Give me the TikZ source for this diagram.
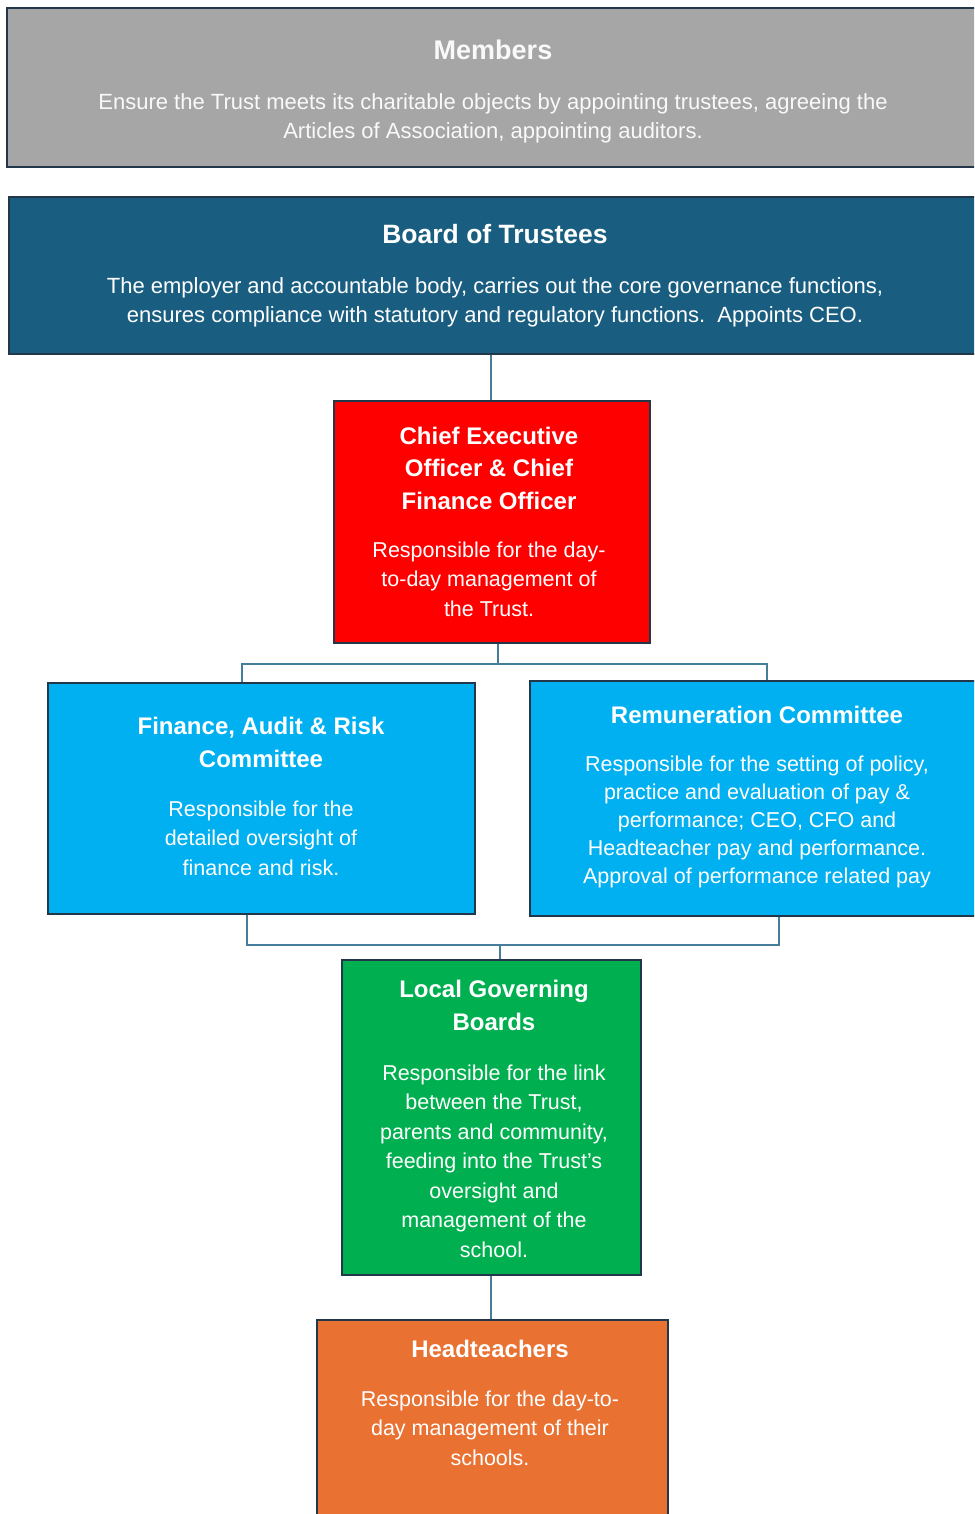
\documentclass[tikz,border=0pt]{standalone}
\usepackage{fontspec}
\setmainfont{Liberation Sans}
\definecolor{memgray}{HTML}{A6A6A6}
\definecolor{boardblue}{HTML}{195E80}
\definecolor{ceored}{HTML}{FF0000}
\definecolor{comblue}{HTML}{00B0F0}
\definecolor{lgbgreen}{HTML}{00B050}
\definecolor{headorange}{HTML}{E97132}
\definecolor{edge}{HTML}{22384A}
\definecolor{conncol}{HTML}{457D9A}
\begin{document}
\begin{tikzpicture}[x=1pt,y=-1pt,
  box/.style={draw=edge, line width=1.6pt, rectangle, inner sep=0pt},
  conn/.style={draw=conncol, line width=1.6pt},
  title/.style={text=white, inner sep=0pt, align=center, font=\fontsize{24}{32.5}\selectfont\bfseries},
  body/.style={text=white, inner sep=0pt, align=center, font=\fontsize{21.5}{29.5}\selectfont},
]
\clip (0,0) rectangle (974,1514);
\fill[white] (0,0) rectangle (974,1514);
% boxes
\node[box, fill=memgray, minimum width=990pt, minimum height=159pt] (members) at (502,87.5) {};
\node[box, fill=boardblue, minimum width=990pt, minimum height=157pt] (board) at (504,275.5) {};
\node[box, fill=ceored, minimum width=316pt, minimum height=242pt] (ceo) at (492,522) {};
\node[box, fill=comblue, minimum width=427pt, minimum height=231pt] (far) at (261.5,798.5) {};
\node[box, fill=comblue, minimum width=460pt, minimum height=235pt] (rem) at (760,798.5) {};
\node[box, fill=lgbgreen, minimum width=299pt, minimum height=315pt] (lgb) at (491.5,1117.5) {};
\node[box, fill=headorange, minimum width=351pt, minimum height=220pt] (head) at (492.5,1430) {};
% texts
\node[title, font=\fontsize{27}{32}\selectfont\bfseries, text=white!95!gray] (memT) at (493,50) {Members};
\node[body, font=\fontsize{22}{29}\selectfont, text=white!95!gray] (memB) at (493,118) {Ensure the Trust meets its charitable objects by appointing trustees, agreeing the\\Articles of Association, appointing auditors.};
\node[title, font=\fontsize{26.5}{32}\selectfont\bfseries] (boardT) at (495,234) {Board of Trustees};
\node[body, font=\fontsize{22}{29}\selectfont] (boardB) at (495,302.5) {The employer and accountable body, carries out the core governance functions,\\ensures compliance with statutory and regulatory functions.\ \ Appoints CEO.};
\node[title] (ceoT) at (489,468) {Chief Executive\\Officer \& Chief\\Finance Officer};
\node[body] (ceoB) at (489,579) {Responsible for the day-\\to-day management of\\the Trust.};
\node[title] (farT) at (261,742.5) {Finance, Audit \& Risk\\Committee};
\node[body] (farB) at (261,838) {Responsible for the\\detailed oversight of\\finance and risk.};
\node[title] (remT) at (757,715) {Remuneration Committee};
\node[body, font=\fontsize{21.5}{28}\selectfont] (remB) at (757,822) {Responsible for the setting of policy,\\practice and evaluation of pay \&\\performance; CEO, CFO and\\Headteacher pay and performance.\\Approval of performance related pay};
\node[title] (lgbT) at (494,1005.5) {Local Governing\\Boards};
\node[body] (lgbB) at (494,1161) {Responsible for the link\\between the Trust,\\parents and community,\\feeding into the Trust’s\\oversight and\\management of the\\school.};
\node[title] (headT) at (490,1349) {Headteachers};
\node[body] (headB) at (490,1428) {Responsible for the day-to-\\day management of their\\schools.};
% connectors
\coordinate (c1) at (491,0);
\draw[conn] (board.south -| c1) -- (ceo.north -| c1);
\coordinate (j1) at (498,664);
\coordinate (fa) at (242,664);
\coordinate (ra) at (767,664);
\draw[conn] (ceo.south -| j1) -- (j1);
\draw[conn] (far.north -| fa) -- (fa) -- (ra) -- (rem.north -| ra);
\coordinate (fb) at (247,945);
\coordinate (rb) at (779,945);
\coordinate (j2) at (500,945);
\draw[conn] (far.south -| fb) -- (fb) -- (rb) -- (rem.south -| rb);
\draw[conn] (j2) -- (lgb.north -| j2);
\coordinate (c2) at (491,0);
\draw[conn] (lgb.south -| c2) -- (head.north -| c2);
\end{tikzpicture}
\end{document}
